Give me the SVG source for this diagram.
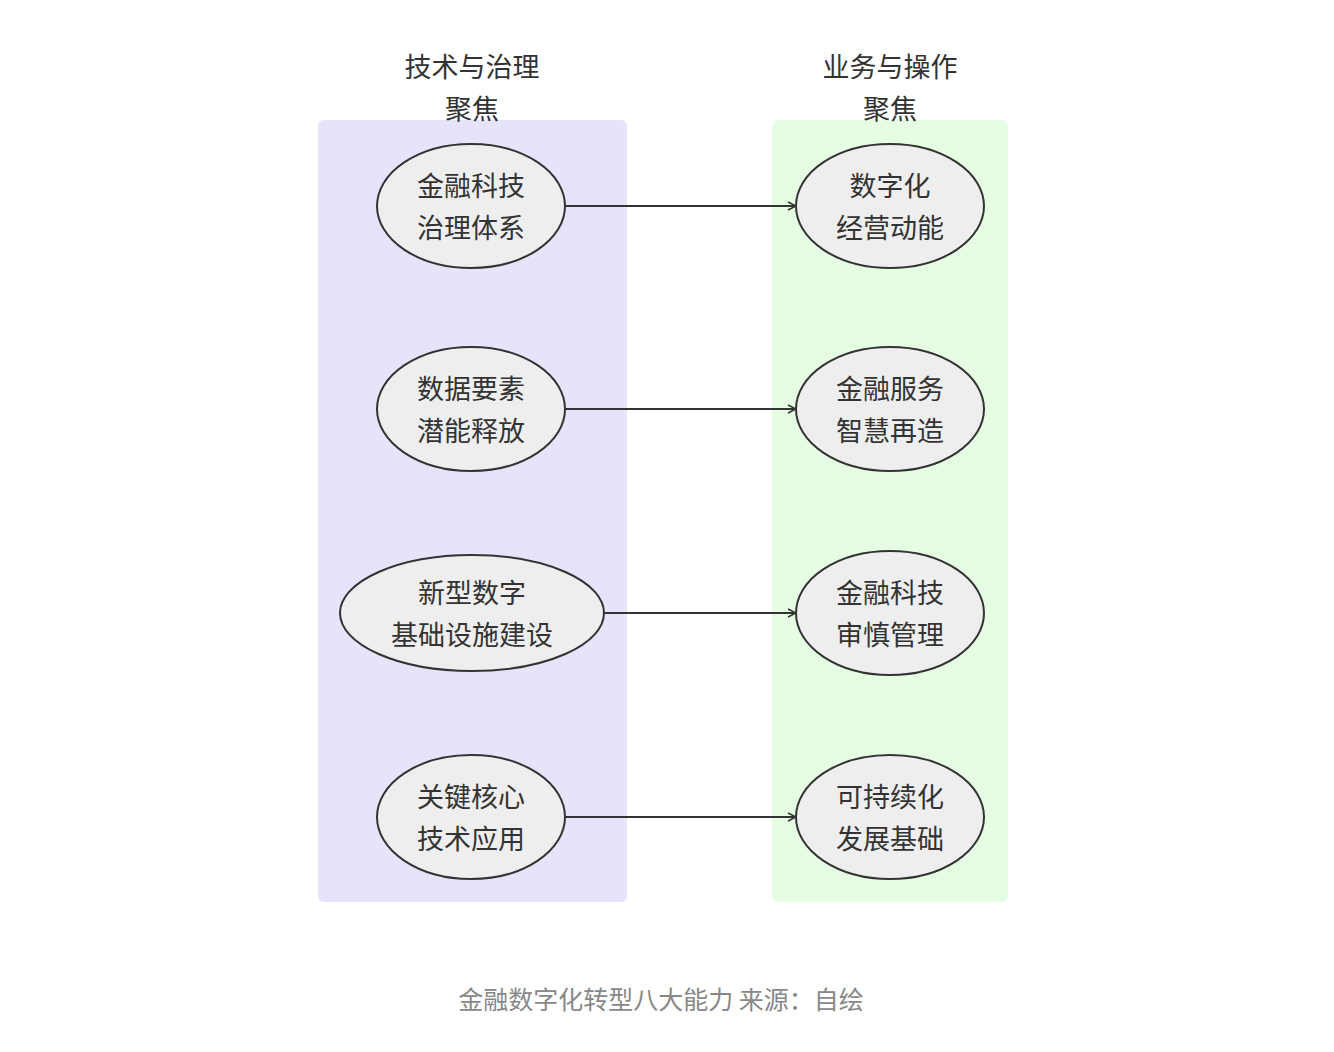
<svg xmlns="http://www.w3.org/2000/svg" width="1334" height="1052" viewBox="0 0 1334 1052">
<style>
text{font-family:"Noto Sans CJK SC","Noto Sans",sans-serif;text-anchor:middle;}
.t{font-size:27px;fill:#333;}
.n ellipse{fill:#eeeeee;stroke:#333;stroke-width:2;}
.c line{stroke:#333;stroke-width:2;fill:none;}
.cap{font-size:25px;fill:#888;}
</style>
<defs>
<marker id="ah" viewBox="0 0 10 10" refX="9" refY="5" markerWidth="10" markerHeight="10" markerUnits="userSpaceOnUse" orient="auto">
<path d="M1,1 L9,5 L1,9" fill="none" stroke="#333" stroke-width="1.5"/>
</marker>
</defs>
<rect width="1334" height="1052" fill="#fff"/>
<g id="cluster-left">
<rect x="318" y="120" width="309" height="782" rx="6" fill="#e5e4fb"/>
<text class="t" x="472" y="77">技术与治理</text>
<text class="t" x="472" y="119">聚焦</text>
</g>
<g id="cluster-right">
<rect x="772" y="120" width="236" height="782" rx="6" fill="#e5fde3"/>
<text class="t" x="890" y="77">业务与操作</text>
<text class="t" x="890" y="119">聚焦</text>
</g>
<g class="c" id="connectors">
<line x1="566" y1="206" x2="796" y2="206" marker-end="url(#ah)"/>
<line x1="566" y1="409" x2="796" y2="409" marker-end="url(#ah)"/>
<line x1="604" y1="613" x2="796" y2="613" marker-end="url(#ah)"/>
<line x1="566" y1="817" x2="796" y2="817" marker-end="url(#ah)"/>
</g>
<g class="n" id="n1"><ellipse cx="471" cy="206" rx="94" ry="62"/><text class="t" x="471" y="196">金融科技</text><text class="t" x="471" y="238">治理体系</text></g>
<g class="n" id="n2"><ellipse cx="471" cy="409" rx="94" ry="62"/><text class="t" x="471" y="399">数据要素</text><text class="t" x="471" y="441">潜能释放</text></g>
<g class="n" id="n3"><ellipse cx="472" cy="613" rx="132" ry="58"/><text class="t" x="472" y="603">新型数字</text><text class="t" x="472" y="645">基础设施建设</text></g>
<g class="n" id="n4"><ellipse cx="471" cy="817" rx="94" ry="62"/><text class="t" x="471" y="807">关键核心</text><text class="t" x="471" y="849">技术应用</text></g>
<g class="n" id="n5"><ellipse cx="890" cy="206" rx="94" ry="62"/><text class="t" x="890" y="196">数字化</text><text class="t" x="890" y="238">经营动能</text></g>
<g class="n" id="n6"><ellipse cx="890" cy="409" rx="94" ry="62"/><text class="t" x="890" y="399">金融服务</text><text class="t" x="890" y="441">智慧再造</text></g>
<g class="n" id="n7"><ellipse cx="890" cy="613" rx="94" ry="62"/><text class="t" x="890" y="603">金融科技</text><text class="t" x="890" y="645">审慎管理</text></g>
<g class="n" id="n8"><ellipse cx="890" cy="817" rx="94" ry="62"/><text class="t" x="890" y="807">可持续化</text><text class="t" x="890" y="849">发展基础</text></g>
<text class="cap" x="661" y="1009">金融数字化转型八大能力 来源：自绘</text>
</svg>
